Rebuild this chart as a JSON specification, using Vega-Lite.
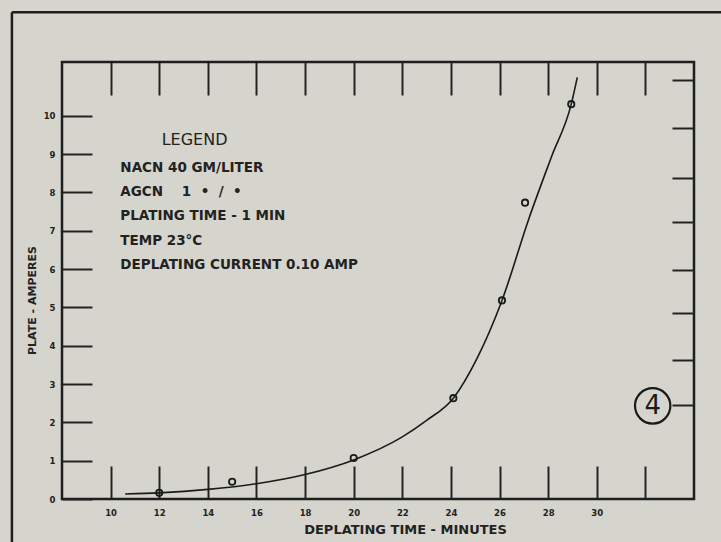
{
  "$schema": "https://vega.github.io/schema/vega-lite/v6.json",
  "width": 632,
  "height": 437,
  "autosize": "none",
  "padding": {"left": 62, "top": 62, "right": 27, "bottom": 43},
  "background": "#d5d5cd",
  "config": {
    "view": {"stroke": "#1e1e1e", "strokeWidth": 2.5},
    "axis": {"domain": false, "grid": false, "tickColor": "#222222", "tickWidth": 2, "labelColor": "#222222", "titleColor": "#222222", "labelFont": "DejaVu Sans", "titleFont": "DejaVu Sans", "labelFontWeight": "bold", "labelFontSize": 8.5}
  },
  "datasets": {
    "curve": [
      {"t": 10.6, "amps": 0.13}, {"t": 12, "amps": 0.16}, {"t": 14, "amps": 0.25},
      {"t": 16, "amps": 0.4}, {"t": 18, "amps": 0.64}, {"t": 20, "amps": 1.02},
      {"t": 22, "amps": 1.62}, {"t": 23, "amps": 2.05}, {"t": 24.1, "amps": 2.63},
      {"t": 25.1, "amps": 3.7}, {"t": 26.1, "amps": 5.18}, {"t": 27.2, "amps": 7.3},
      {"t": 28.15, "amps": 8.95}, {"t": 28.95, "amps": 10.3}, {"t": 29.2, "amps": 11.0}
    ],
    "points": [
      {"t": 12, "amps": 0.16}, {"t": 15, "amps": 0.45}, {"t": 20, "amps": 1.07},
      {"t": 24.1, "amps": 2.63}, {"t": 26.1, "amps": 5.18}, {"t": 27.05, "amps": 7.73},
      {"t": 28.95, "amps": 10.3}
    ]
  },
  "layer": [
    {
      "data": {"name": "curve"},
      "mark": {"type": "line", "interpolate": "monotone", "color": "#1a1a1a", "strokeWidth": 1.6},
      "encoding": {
        "x": {"field": "t", "type": "quantitative", "scale": {"domain": [8, 34], "nice": false, "zero": false},
          "axis": {"orient": "bottom", "values": [10, 12, 14, 16, 18, 20, 22, 24, 26, 28, 30, 32], "tickSize": -33, "labelPadding": 42,
            "labelExpr": "datum.value <= 30 ? datum.label : ''",
            "title": "DEPLATING TIME - MINUTES", "titleFontSize": 13, "titleFontWeight": "bold", "titleX": 343, "titleY": 30, "titleBaseline": "middle"}},
        "y": {"field": "amps", "type": "quantitative", "scale": {"domain": [0, 11.4], "nice": false},
          "axis": {"orient": "left", "values": [0, 1, 2, 3, 4, 5, 6, 7, 8, 9, 10], "tickSize": -30, "labelPadding": 37,
            "title": "PLATE - AMPERES", "titleFontSize": 11, "titleFontWeight": "bold", "titleX": -30, "titleY": 238, "titleAngle": -90, "titleBaseline": "middle"}}
      }
    },
    {
      "data": {"name": "points"},
      "mark": {"type": "point", "shape": "circle", "filled": false, "stroke": "#1a1a1a", "strokeWidth": 1.8, "size": 40, "opacity": 1},
      "encoding": {
        "x": {"field": "t", "type": "quantitative",
          "axis": {"orient": "top", "values": [10, 12, 14, 16, 18, 20, 22, 24, 26, 28, 30, 32], "tickSize": -33, "labels": false, "title": null}},
        "y": {"field": "amps", "type": "quantitative",
          "axis": {"orient": "right", "values": [2.45, 3.63, 4.86, 5.98, 7.23, 8.38, 9.69, 10.94], "tickSize": -22, "labels": false, "title": null}}
      }
    },
    {
      "data": {"values": [{}]},
      "mark": {"type": "rule", "color": "#1e1e1e", "strokeWidth": 2.5},
      "encoding": {"x": {"datum": 5.94, "type": "quantitative", "axis": null}, "y": {"datum": 12.7, "type": "quantitative", "axis": null}, "y2": {"datum": -1.3}}
    },
    {
      "data": {"values": [{}]},
      "mark": {"type": "rule", "color": "#1e1e1e", "strokeWidth": 2.5},
      "encoding": {"x": {"datum": 5.94, "type": "quantitative", "axis": null}, "x2": {"datum": 35.2}, "y": {"datum": 12.7, "type": "quantitative", "axis": null}}
    },
    {
      "data": {"values": [{}]},
      "mark": {"type": "text", "text": "LEGEND", "align": "left", "baseline": "middle", "font": "DejaVu Sans", "fontSize": 16, "color": "#222222"},
      "encoding": {"x": {"datum": 12.1, "type": "quantitative", "axis": null}, "y": {"datum": 9.37, "type": "quantitative", "axis": null}}
    },
    {
      "data": {"values": [{}]},
      "mark": {"type": "text", "text": ["NACN 40 GM/LITER", "AGCN\u00a0\u00a0\u00a0\u00a01\u00a0\u00a0•\u00a0\u00a0/\u00a0\u00a0•", "PLATING TIME - 1 MIN", "TEMP 23°C", "DEPLATING CURRENT 0.10 AMP"], "lineHeight": 24.3, "align": "left", "baseline": "middle", "font": "DejaVu Sans", "fontSize": 13.5, "fontWeight": "bold", "color": "#222222"},
      "encoding": {"x": {"datum": 10.4, "type": "quantitative", "axis": null}, "y": {"datum": 8.64, "type": "quantitative", "axis": null}}
    },
    {
      "data": {"values": [{}]},
      "mark": {"type": "point", "shape": "circle", "filled": false, "stroke": "#1a1a1a", "strokeWidth": 2.2, "size": 1250, "opacity": 1},
      "encoding": {"x": {"datum": 32.3, "type": "quantitative", "axis": null}, "y": {"datum": 2.43, "type": "quantitative", "axis": null}}
    },
    {
      "data": {"values": [{}]},
      "mark": {"type": "text", "text": "4", "align": "center", "baseline": "middle", "font": "DejaVu Sans", "fontSize": 26, "color": "#1a1a1a"},
      "encoding": {"x": {"datum": 32.3, "type": "quantitative", "axis": null}, "y": {"datum": 2.43, "type": "quantitative", "axis": null}}
    }
  ],
  "resolve": {"axis": {"x": "independent", "y": "independent"}}
}
